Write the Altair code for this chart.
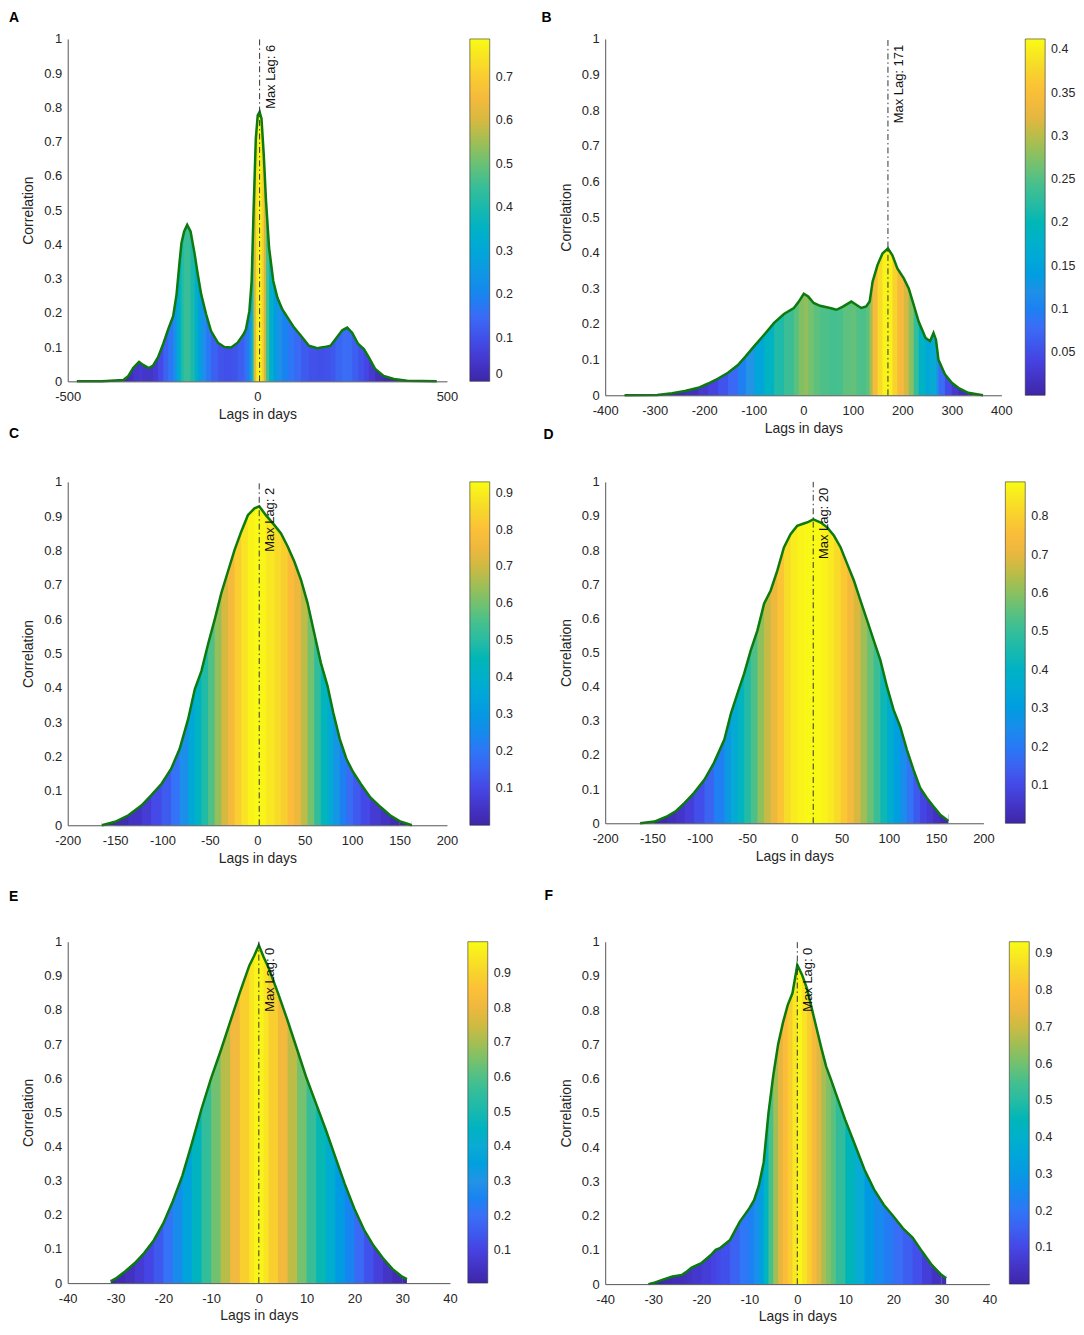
import altair as alt
import pandas as pd

FONT = "Liberation Sans"
TEXT_COLOR = "#262626"
GREEN = "#0c7a0c"

# parula-like colour stops (position in colour range, colour)
PARULA_POS = [0.0, 0.10, 0.20, 0.30, 0.40, 0.50, 0.60, 0.70, 0.78, 0.85, 0.92, 1.0]
PARULA_HEX = ["#3E26A8", "#4643E4", "#3A70F7", "#2393E6", "#0CABD3", "#17B8B0",
              "#4BC08A", "#A0BE55", "#E6B640", "#FCBC3A", "#F6D82A", "#F9FB15"]

Y_TICKS = [0, 0.1, 0.2, 0.3, 0.4, 0.5, 0.6, 0.7, 0.8, 0.9, 1.0]

# ---- Panel A ----
LAG_A = [-476, -410, -353, -340, -327, -312, -301, -286, -275, -262,
         -248, -235, -222, -213, -205, -200, -193, -185, -176, -165,
         -157, -148, -135, -122, -104, -87, -69, -52, -36, -30,
         -21, -15, -10, -4, 1, 6, 11, 17, 23, 31,
         42, 53, 66, 80, 97, 115, 136, 158, 176, 193,
         206, 224, 237, 250, 266, 281, 294, 311, 333, 360,
         395, 473]
CORR_A = [0.0, 0.0, 0.004, 0.016, 0.04, 0.057, 0.048, 0.039, 0.046, 0.07,
          0.11, 0.152, 0.19, 0.254, 0.35, 0.404, 0.438, 0.457, 0.438, 0.37,
          0.312, 0.254, 0.196, 0.147, 0.113, 0.10, 0.099, 0.113, 0.138, 0.152,
          0.205, 0.293, 0.496, 0.709, 0.777, 0.787, 0.767, 0.661, 0.525, 0.39,
          0.293, 0.244, 0.21, 0.186, 0.157, 0.133, 0.104, 0.097, 0.10, 0.104,
          0.123, 0.149, 0.157, 0.142, 0.109, 0.094, 0.07, 0.036, 0.016, 0.007,
          0.002, 0.0]

# ---- Panel B ----
LAG_B = [-361, -295, -265, -239, -212, -192, -172, -152, -132, -116,
         -99, -79, -59, -39, -19, -9, 1, 10, 21, 34,
         54, 67, 80, 97, 107, 117, 127, 134, 140, 150,
         160, 171, 180, 190, 203, 213, 223, 233, 247, 256,
         263, 268, 273, 286, 300, 313, 333, 363]
CORR_B = [0.0, 0.001, 0.006, 0.012, 0.021, 0.033, 0.047, 0.063, 0.085, 0.11,
          0.138, 0.17, 0.203, 0.228, 0.245, 0.263, 0.285, 0.277, 0.259, 0.251,
          0.245, 0.24, 0.249, 0.263, 0.254, 0.245, 0.249, 0.263, 0.319, 0.366,
          0.398, 0.412, 0.393, 0.356, 0.328, 0.30, 0.254, 0.207, 0.161, 0.152,
          0.175, 0.156, 0.10, 0.059, 0.035, 0.021, 0.007, 0.0]

# ---- Panel C ----
LAG_C = [-164, -150, -136, -122, -112, -101, -91, -82, -73, -66,
         -59, -52, -45, -38, -31, -24, -17, -10, -3, 2,
         9, 18, 25, 32, 39, 46, 53, 60, 67, 74,
         80, 87, 94, 101, 109, 119, 130, 140, 150, 163]
CORR_C = [0.0, 0.01, 0.029, 0.058, 0.087, 0.121, 0.164, 0.222, 0.309, 0.396,
          0.449, 0.527, 0.599, 0.676, 0.739, 0.802, 0.855, 0.903, 0.923, 0.929,
          0.903, 0.874, 0.85, 0.812, 0.768, 0.715, 0.647, 0.56, 0.473, 0.406,
          0.329, 0.251, 0.193, 0.155, 0.121, 0.082, 0.053, 0.029, 0.012, 0.0]

# ---- Panel D ----
LAG_D = [-163, -148, -134, -125, -116, -106, -95, -85, -74, -67,
         -60, -53, -46, -39, -32, -25, -18, -11, -4, 3,
         10, 15, 20, 28, 35, 42, 49, 56, 63, 70,
         77, 84, 91, 98, 105, 112, 119, 126, 133, 140,
         147, 154, 163]
CORR_D = [0.0, 0.005, 0.021, 0.036, 0.06, 0.089, 0.128, 0.177, 0.245, 0.322,
          0.381, 0.439, 0.507, 0.565, 0.643, 0.682, 0.74, 0.808, 0.847, 0.871,
          0.878, 0.883, 0.89, 0.881, 0.866, 0.842, 0.808, 0.759, 0.711, 0.652,
          0.594, 0.536, 0.478, 0.40, 0.332, 0.283, 0.216, 0.157, 0.104, 0.075,
          0.05, 0.026, 0.007]

# ---- Panel E ----
LAG_E = [-31, -30, -28, -26, -24, -22, -20, -18, -16, -14,
         -12, -10, -8, -6, -4, -2, -1, 0, 1, 2,
         4, 6, 8, 10, 12, 14, 16, 18, 20, 22,
         24, 26, 28, 30, 31]
CORR_E = [0.005, 0.013, 0.034, 0.058, 0.088, 0.125, 0.175, 0.24, 0.315, 0.41,
          0.51, 0.6, 0.68, 0.765, 0.85, 0.93, 0.958, 0.99, 0.955, 0.925,
          0.85, 0.77, 0.685, 0.6, 0.525, 0.45, 0.37, 0.29, 0.218, 0.157,
          0.11, 0.073, 0.041, 0.019, 0.012]

# ---- Panel F ----
LAG_F = [-31, -30, -28, -26, -24, -23, -22, -20, -18, -17,
         -16, -14, -12, -10, -9, -8, -7, -6, -5, -4,
         -3, -2, -1, 0, 1, 2, 3, 4, 5, 6,
         7, 8, 10, 12, 14, 16, 18, 20, 22, 24,
         26, 28, 30, 31]
CORR_F = [0.0, 0.003, 0.013, 0.022, 0.027, 0.037, 0.048, 0.061, 0.085, 0.10,
          0.106, 0.129, 0.182, 0.221, 0.245, 0.288, 0.356, 0.5, 0.61, 0.70,
          0.763, 0.815, 0.85, 0.932, 0.903, 0.864, 0.806, 0.748, 0.69, 0.636,
          0.598, 0.558, 0.479, 0.407, 0.334, 0.276, 0.232, 0.198, 0.163, 0.136,
          0.095, 0.056, 0.027, 0.017]

MAX_LAGS = {"A": 6, "B": 171, "C": 2, "D": 20, "E": 0, "F": 0}

X_TICKS = {
    "A": [-500, 0, 500],
    "B": [-400, -300, -200, -100, 0, 100, 200, 300, 400],
    "C": [-200, -150, -100, -50, 0, 50, 100, 150, 200],
    "D": [-200, -150, -100, -50, 0, 50, 100, 150, 200],
    "E": [-40, -30, -20, -10, 0, 10, 20, 30, 40],
    "F": [-40, -30, -20, -10, 0, 10, 20, 30, 40],
}
CBAR_TICKS = {
    "A": [0, 0.1, 0.2, 0.3, 0.4, 0.5, 0.6, 0.7],
    "B": [0.05, 0.1, 0.15, 0.2, 0.25, 0.3, 0.35, 0.4],
    "C": [0.1, 0.2, 0.3, 0.4, 0.5, 0.6, 0.7, 0.8, 0.9],
    "D": [0.1, 0.2, 0.3, 0.4, 0.5, 0.6, 0.7, 0.8],
    "E": [0.1, 0.2, 0.3, 0.4, 0.5, 0.6, 0.7, 0.8, 0.9],
    "F": [0.1, 0.2, 0.3, 0.4, 0.5, 0.6, 0.7, 0.8, 0.9],
}

# layout (pixels)
LAYOUT = {
    "A": dict(w=381, h=344, off=0, gap=23, ldx=-59, ldy=-28),
    "B": dict(w=398, h=358, off=0, gap=24, ldx=-64, ldy=-28),
    "C": dict(w=381, h=345, off=0, gap=23, ldx=-59, ldy=-55),
    "D": dict(w=380, h=343, off=0, gap=22, ldx=-62, ldy=-54),
    "E": dict(w=384, h=343, off=30, gap=18, ldx=-59, ldy=-52),
    "F": dict(w=386, h=344, off=30, gap=20, ldx=-61, ldy=-53),
}

DATA = {"A": (LAG_A, CORR_A), "B": (LAG_B, CORR_B), "C": (LAG_C, CORR_C),
        "D": (LAG_D, CORR_D), "E": (LAG_E, CORR_E), "F": (LAG_F, CORR_F)}

MINUS = "\u2212"
LABEL_EXPR = "replace(datum.label, '" + MINUS + "', '-')"


def make_panel(key):
    lags, corr = DATA[key]
    L = LAYOUT[key]
    w, h, off = L["w"], L["h"], L["off"]
    lo, hi = min(corr), max(corr)
    cdom = [lo + t * (hi - lo) for t in PARULA_POS]

    n = len(lags)
    # every colour strip covers [lag_i, lag_i+1]; inner strips reach under the next
    # strip so that no seams show, edge strips stop at the curve's end
    strips = pd.DataFrame({
        "lag": lags[:-1],
        "lag2": [lags[i + 2] if i + 2 <= n - 2 else lags[i + 1] for i in range(n - 1)],
        "c": [(corr[i] + corr[i + 1]) / 2 for i in range(n - 1)],
        "top": [max(corr[i], corr[i + 1]) for i in range(n - 1)],
    })
    curve = pd.DataFrame({"lag": lags, "corr": corr})
    ml = pd.DataFrame({"lag": [MAX_LAGS[key]], "label": [f"Max Lag: {MAX_LAGS[key]}"]})
    letter = pd.DataFrame({"t": [key]})

    xmax = X_TICKS[key][-1]
    xs = alt.Scale(domain=[-xmax, xmax], nice=False, zero=False)
    ys = alt.Scale(domain=[0, 1], nice=False, zero=False, range=[h + off, off])
    xax = alt.Axis(values=X_TICKS[key], title="Lags in days", format=".6~g",
                   labelExpr=LABEL_EXPR,
                   labelFlush=False, ticks=False, grid=False, zindex=1,
                   labelPadding=9, titlePadding=4)
    yax = alt.Axis(values=Y_TICKS, title="Correlation", format=".6~g",
                   labelFlush=False, ticks=False, grid=False, zindex=1,
                   labelPadding=6, titlePadding=8)
    X = alt.X("lag:Q", scale=xs, axis=xax)

    leg = alt.Legend(type="gradient", title=None, orient="none",
                     legendX=w + L["gap"], legendY=off, padding=0,
                     direction="vertical", gradientLength=h, gradientThickness=20,
                     values=CBAR_TICKS[key], format=".6~g", labelFont=FONT,
                     labelFontSize=12.5, labelColor=TEXT_COLOR, labelOffset=6,
                     gradientStrokeColor="#333333", gradientStrokeWidth=0.6,
                     labelOverlap=False)

    strip_layer = alt.Chart(strips).mark_rect().encode(
        x=X,
        x2="lag2:Q",
        y=alt.Y("top:Q", scale=ys, axis=yax),
        y2=alt.Y2(datum=0),
        color=alt.Color("c:Q", scale=alt.Scale(type="linear", domain=cdom, range=PARULA_HEX),
                        legend=leg),
    )
    mask = alt.Chart(curve).mark_area(color="white", opacity=1).encode(
        x=X,
        y=alt.Y("corr:Q", scale=ys, axis=yax),
        y2=alt.Y2(datum=1),
    )
    line = alt.Chart(curve).mark_line(color=GREEN, strokeWidth=2.5).encode(
        x=X,
        y=alt.Y("corr:Q", scale=ys, axis=yax),
    )
    rule = alt.Chart(ml).mark_rule(color="#333333", strokeWidth=1,
                                   strokeDash=[6, 3, 1.5, 3]).encode(
        x=X,
        y=alt.Y(datum=0, scale=ys, axis=yax),
        y2=alt.Y2(datum=1),
    )
    txt = alt.Chart(ml).mark_text(angle=270, align="right", baseline="top",
                                  dx=-6, dy=5, font=FONT, fontSize=13,
                                  color="#111111").encode(
        x=X,
        y=alt.Y(datum=1, scale=ys, axis=yax),
        text="label:N",
    )
    let = alt.Chart(letter).mark_text(align="left", baseline="top", font=FONT,
                                      fontSize=14, fontWeight="bold",
                                      color="black").encode(
        x=alt.value(L["ldx"]),
        y=alt.value(off + L["ldy"]),
        text="t:N",
    )
    return alt.layer(strip_layer, mask, line, rule, txt, let).properties(
        width=w, height=h + off)


panels = [make_panel(k) for k in ["A", "B", "C", "D", "E", "F"]]

chart = alt.concat(
    *panels, columns=2, spacing={"row": 87, "column": 156}, bounds="flush"
).resolve_scale(
    x="independent", y="independent", color="independent"
).properties(
    padding={"left": 1, "top": 0, "right": 0, "bottom": 0}
).configure_view(
    stroke=None
).configure_axis(
    domainColor="#555555", domainWidth=1,
    labelFont=FONT, labelFontSize=13, labelColor=TEXT_COLOR,
    titleFont=FONT, titleFontSize=14, titleFontWeight="normal", titleColor=TEXT_COLOR,
)

chart.save("out.html", embed_options={"renderer": "svg", "actions": False})
